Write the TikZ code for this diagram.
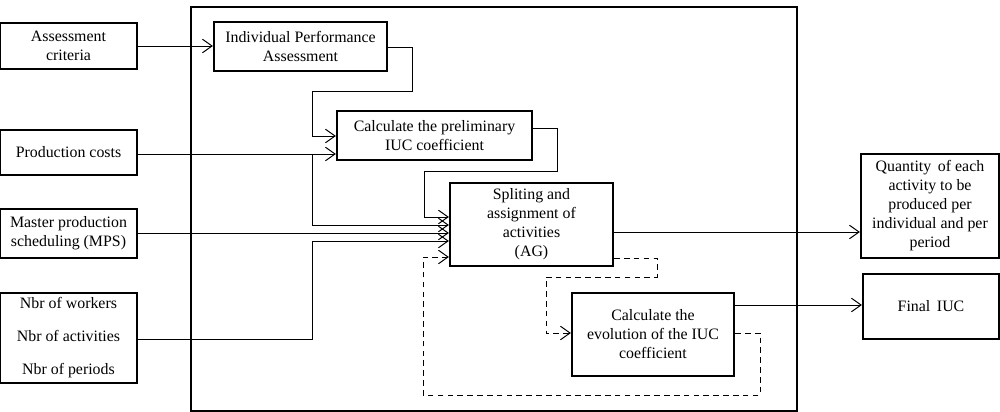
\documentclass[tikz,border=0pt]{standalone}
\usepackage{fontspec}
\setmainfont{Liberation Serif}
\usetikzlibrary{arrows.meta,positioning}
\tikzset{
  blk/.style = {draw=black, line width=1.6pt, align=center, inner sep=2pt,
    font=\fontsize{11.3}{13.5}\selectfont},% boite
  inp/.style = {blk, minimum width=137*0.025cm},% boite d'entree
  lnk/.style = {->, line width=0.7pt},% lien
  fbk/.style = {->, line width=0.7pt, dashed, dash pattern=on 4pt off 3pt}% retour
}
\begin{document}
\begin{tikzpicture}[x=0.025cm, y=-0.025cm, >={Straight Barb[length=2.4mm,width=3.4mm]}]
        \useasboundingbox (0,0) rectangle (1000,412);
        % cadre
        \draw[line width=1.6pt] (191,7) rectangle (797,411);

        % entrees
        \node [inp, minimum height=46*0.025cm] (crit) at (68.5,46) {Assessment\\criteria};
        \node [inp, minimum height=45*0.025cm] (cost) at (68.5,152.5) {Production costs};
        \node [inp, minimum height=49*0.025cm] (mps) at (68.5,233.5) {Master production\\scheduling (MPS)};
        \node [inp, minimum height=90*0.025cm] (nbr) at (68.5,338) {Nbr of workers\\[0.35cm]Nbr of activities\\[0.35cm]Nbr of periods};

        % activites
        \node [blk, minimum width=173*0.025cm, minimum height=49*0.025cm] (ipa) at (300.5,46.5) {Individual Performance\\Assessment};
        \node [blk, minimum width=195*0.025cm, minimum height=49*0.025cm] (pre) at (434.5,135.5) {Calculate the preliminary\\IUC coefficient};
        \node [blk, minimum width=163*0.025cm, minimum height=83*0.025cm] (split) at (531.5,224.5) {Spliting and\\assignment of\\activities\\(AG)};
        \node [blk, minimum width=162*0.025cm, minimum height=83*0.025cm] (evo) at (653,334.5) {Calculate the\\evolution of the IUC\\coefficient};

        % sorties
        \node [blk, minimum width=138*0.025cm, minimum height=104*0.025cm] (qty) at (930,206) {Quantity\, of each\\activity to be\\produced per\\individual and per\\period};
        \node [blk, minimum width=136*0.025cm, minimum height=65*0.025cm] (fin) at (931,306.5) {Final\, IUC};

        \draw[lnk] (crit.east |- 0,46) -- (ipa.west |- 0,46);
        \draw[lnk] (ipa.east |- 0,47) -| (412,91) -| (312,136) -- (pre.west |- 0,136);
        \draw[lnk] (cost.east |- 0,154) -- (pre.west |- 0,154);
        \draw[lnk] (312,154) |- (split.west |- 0,225);
        \draw[lnk] (pre.east |- 0,128) -| (557,171) -| (424,217) -- (split.west |- 0,217);
        \draw[lnk] (mps.east |- 0,233) -- (split.west |- 0,233);
        \draw[lnk] (nbr.east |- 0,339) -| (312,241) -- (split.west |- 0,241);
        \draw[fbk] (split.east |- 0,258) -| (657,277) -| (546,333) -- (evo.west |- 0,333);
        \draw[fbk] (evo.east |- 0,333) -| (760,395) -| (423,257) -- (split.west |- 0,257);
        \draw[lnk] (split.east |- 0,232) -- (qty.west |- 0,232);
        \draw[lnk] (evo.east |- 0,305) -- (fin.west |- 0,305);

        \end{tikzpicture}
\end{document}
